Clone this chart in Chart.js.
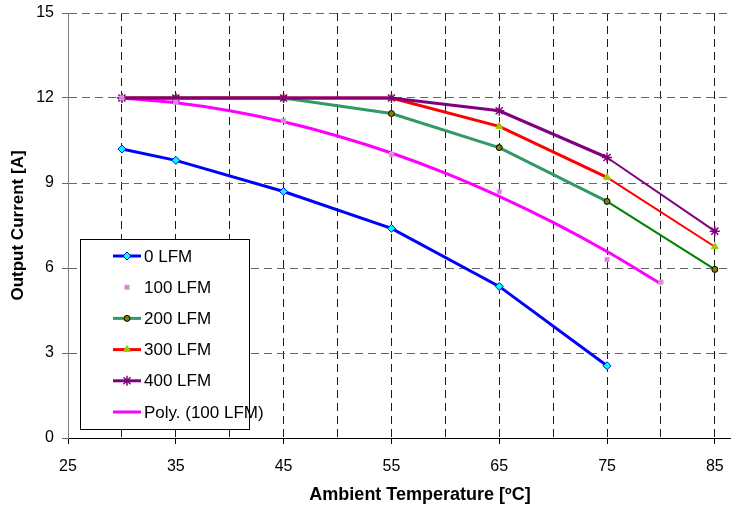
<!DOCTYPE html>
<html>
<head>
<meta charset="utf-8">
<script src="https://cdn.jsdelivr.net/npm/chart.js@4.4.1/dist/chart.umd.min.js"></script>
<style>
  html, body { margin: 0; padding: 0; background: #fff; }
</style>
</head>
<body>
<canvas id="c" width="731" height="512"></canvas>
<script>
const FONT = 'Arial, "Liberation Sans", sans-serif';

// temperatures [ºC]
const temps = [30, 35, 45, 55, 65, 75, 85];
const temps100 = [30, 35, 45, 55, 65, 75, 80];
const tempsPoly = [30, 35, 40, 45, 50, 55, 60, 65, 70, 75, 80];

// output current [A]
const lfm0 = [10.2, 9.8, 8.7, 7.4, 5.35, 2.55];
const lfm100 = [12, 11.85, 11.2, 10.0, 8.7, 6.3, 5.5];
const lfm200 = [12, 12, 12, 11.45, 10.25, 8.35, 5.95];
const lfm300 = [12, 12, 12, 12, 11.0, 9.2, 6.75];
const lfm400 = [12, 12, 12, 12, 11.55, 9.9, 7.3];
const poly100 = [12.0, 11.83, 11.55, 11.16, 10.66, 10.06, 9.35, 8.53, 7.61, 6.58, 5.44];

const xTicks = [25, 30, 35, 40, 45, 50, 55, 60, 65, 70, 75, 80, 85];
const xLabels = [25, 35, 45, 55, 65, 75, 85];
const yTicks = [0, 3, 6, 9, 12, 15];

function pts(xs, ys) {
    return ys.map((y, i) => ({ x: xs[i], y: y }));
}

// last segment (75 -> 85) is thinner in the original
function tail(color) {
    return {
        borderColor: c => c.p0.parsed.x >= 75 ? color : undefined,
        borderWidth: c => c.p0.parsed.x >= 75 ? 2 : undefined
    };
}

const legendBox = {
    id: 'legendBox',
    afterDraw(chart) {
        const ctx = chart.ctx;
        ctx.save();
        ctx.fillStyle = '#fff';
        ctx.fillRect(80.5, 239.5, 169, 190);
        ctx.strokeStyle = '#000';
        ctx.lineWidth = 1;
        ctx.strokeRect(80.5, 239.5, 169, 190);
        ctx.font = '17px ' + FONT;
        ctx.textBaseline = 'middle';
        chart.data.datasets.forEach((ds, i) => {
            const y = 256 + i * 31.2;
            if (ds.showLine !== false) {
                ctx.strokeStyle = ds.borderColor;
                ctx.lineWidth = ds.borderWidth;
                ctx.beginPath();
                ctx.moveTo(113, y);
                ctx.lineTo(141, y);
                ctx.stroke();
            }
            if (ds.pointRadius > 0 && Chart.helpers && Chart.helpers.drawPoint) {
                ctx.fillStyle = ds.pointBackgroundColor;
                ctx.strokeStyle = ds.pointBorderColor;
                ctx.lineWidth = ds.pointBorderWidth;
                Chart.helpers.drawPoint(ctx, {
                    pointStyle: ds.pointStyle,
                    radius: ds.pointRadius,
                    rotation: 0,
                    borderWidth: ds.pointBorderWidth
                }, 127, y);
            }
            ctx.fillStyle = '#000';
            ctx.fillText(ds.label, 144, y + 1);
        });
        // x axis title
        ctx.font = 'bold 18px ' + FONT;
        ctx.textAlign = 'center';
        ctx.fillText('Ambient Temperature [ºC]', 420, 495);
        ctx.restore();
    }
};

new Chart(document.getElementById('c'), {
    type: 'line',
    data: {
        datasets: [{
            label: '0 LFM',
            data: pts(temps, lfm0),
            borderColor: '#0000FF',
            borderWidth: 3,
            pointStyle: 'rectRot',
            pointRadius: 4,
            pointBackgroundColor: '#00FFFF',
            pointBorderColor: '#0000FF',
            pointBorderWidth: 1,
            order: 1
        }, {
            label: '100 LFM',
            data: pts(temps100, lfm100),
            showLine: false,
            borderColor: '#FF66FF',
            pointStyle: 'rect',
            pointRadius: 3,
            pointBackgroundColor: '#FF66FF',
            pointBorderColor: '#BBBBBB',
            pointBorderWidth: 1,
            order: 0
        }, {
            label: '200 LFM',
            data: pts(temps, lfm200),
            borderColor: '#339966',
            borderWidth: 3,
            segment: tail('#008000'),
            pointStyle: 'circle',
            pointRadius: 3,
            pointBackgroundColor: '#808000',
            pointBorderColor: '#000000',
            pointBorderWidth: 1,
            order: 4
        }, {
            label: '300 LFM',
            data: pts(temps, lfm300),
            borderColor: '#FF0000',
            borderWidth: 3,
            segment: tail('#FF0000'),
            pointStyle: 'triangle',
            pointRadius: 4,
            pointBackgroundColor: '#99CC00',
            pointBorderColor: '#99CC00',
            pointBorderWidth: 1,
            order: 3
        }, {
            label: '400 LFM',
            data: pts(temps, lfm400),
            borderColor: '#800080',
            borderWidth: 3,
            segment: tail('#800080'),
            pointStyle: 'star',
            pointRadius: 5,
            pointBackgroundColor: '#800080',
            pointBorderColor: '#800080',
            pointBorderWidth: 1.5,
            order: 2
        }, {
            label: 'Poly. (100 LFM)',
            data: pts(tempsPoly, poly100),
            borderColor: '#FF00FF',
            borderWidth: 3,
            pointRadius: 0,
            cubicInterpolationMode: 'monotone',
            order: 5
        }]
    },
    options: {
        responsive: false,
        animation: false,
        layout: { autoPadding: false, padding: { top: 13, right: 0, left: 0, bottom: 0 } },
        plugins: {
            legend: { display: false },
            tooltip: { enabled: false }
        },
        scales: {
            x: {
                type: 'linear',
                min: 25,
                max: 86.5,
                afterBuildTicks: s => { s.ticks = xTicks.map(v => ({ value: v })); },
                afterFit: s => { s.height = 74; s.paddingLeft = 0; s.paddingRight = 0; },
                ticks: {
                    autoSkip: false,
                    maxRotation: 0,
                    padding: 13,
                    color: '#000',
                    font: { family: FONT, size: 16 },
                    callback: v => xLabels.includes(v) ? String(v) : ''
                },
                grid: {
                    color: c => c.tick && c.tick.value === 25 ? 'transparent' : '#1a1a1a',
                    tickColor: c => c.tick && xLabels.includes(c.tick.value) ? '#000' : 'transparent',
                    tickLength: 6,
                    tickBorderDash: []
                },
                border: { color: '#000', width: 1, dash: [8, 5] }
            },
            y: {
                min: 0,
                max: 15,
                afterBuildTicks: s => { s.ticks = yTicks.map(v => ({ value: v })); },
                afterFit: s => { s.width = 68; s.paddingTop = 0; s.paddingBottom = 0; },
                ticks: {
                    padding: 8,
                    color: '#000',
                    font: { family: FONT, size: 16 }
                },
                grid: {
                    color: c => c.tick && c.tick.value === 0 ? 'transparent' : '#666',
                    tickColor: '#666',
                    tickLength: 6,
                    tickBorderDash: []
                },
                border: { color: '#808080', width: 1, dash: [8, 5] },
                title: {
                    display: true,
                    text: 'Output Current [A]',
                    color: '#000',
                    font: { family: FONT, size: 17, weight: 'bold' },
                    padding: { top: 8, bottom: 0 }
                }
            }
        }
    },
    plugins: [legendBox]
});
</script>
</body>
</html>
